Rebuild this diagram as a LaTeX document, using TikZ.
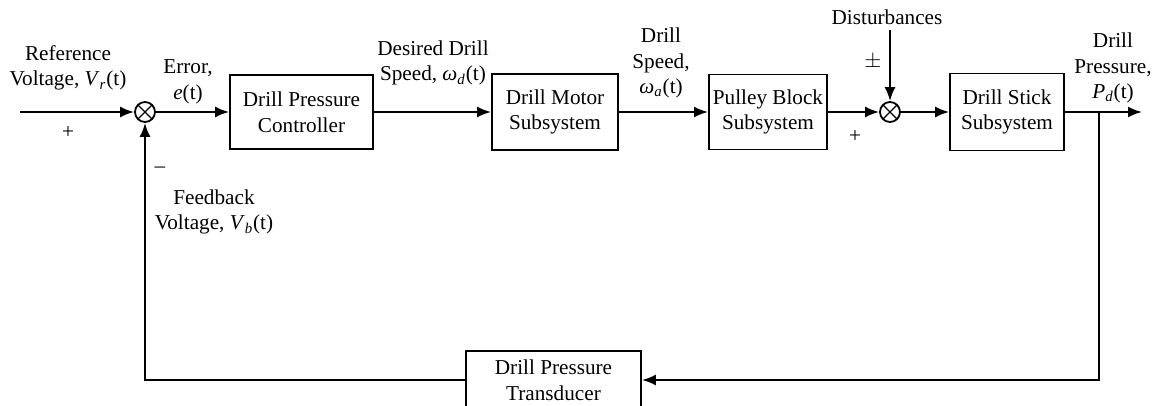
\documentclass[tikz,border=0pt]{standalone}
\usepackage{fontspec}
\setmainfont{Liberation Serif}
\usetikzlibrary{arrows.meta}

\tikzset{
  block/.style={draw, line width=0.9pt, align=center, inner sep=2pt},
  sumjunc/.style={draw, circle, line width=0.9pt, minimum size=10pt, inner sep=0pt,
    path picture={\draw [line width=0.6pt]
      (path picture bounding box.north west) -- (path picture bounding box.south east)
      (path picture bounding box.north east) -- (path picture bounding box.south west);}},
  sig/.style={line width=1pt, -{Latex[length=7pt,width=5.5pt]}},
  lbl/.style={align=center, inner sep=0pt}
}

\begin{document}
\begin{tikzpicture}[x=0.5pt, y=-0.5pt, font=\fontsize{10.6}{12.8}\selectfont]
\useasboundingbox (0,0) rectangle (1168,406);

% Summing junctions
\node [sumjunc] (s1) at (145,112) {};
\node [sumjunc] (s2) at (890,112) {};

% Blocks
\node [block, minimum width=71.5pt, minimum height=37pt] (ctrl) at (301.5,112) {Drill Pressure\\Controller};
\node [block, minimum width=63pt, minimum height=38pt] (motor) at (555,112) {Drill Motor\\Subsystem};
\node [block, minimum width=59pt, minimum height=37.5pt] (pulley) at (768,112) {Pulley Block\\Subsystem};
\node [block, minimum width=57pt, minimum height=38.5pt] (stick) at (1007,112) {Drill Stick\\Subsystem};
\node [block, minimum width=87.5pt, minimum height=29pt] (trans) at (553.5,380) {Drill Pressure\\Transducer};

% Signals
\coordinate (in) at (20,112);
\coordinate (out) at (1142,112);
\coordinate (dist) at (890,30);
\coordinate (br) at (1099,112);

\draw [sig] (in) -- (s1);
\draw [sig] (s1) -- (ctrl);
\draw [sig] (ctrl) -- (motor);
\draw [sig] (motor) -- (pulley);
\draw [sig] (pulley) -- (s2);
\draw [sig] (s2) -- (stick);
\draw [sig] (stick) -- (out);
\draw [sig] (dist) -- (s2);

% Feedback
\draw [sig] (br) |- (trans);
\draw [sig] (trans) -| (s1);

% Labels
\node [lbl] (vr) at (68,68) {Reference\\Voltage, \textit{V}\textsubscript{\textit{r}}(t)};
\node [lbl] (plus1) at (68,133) {+};
\node [lbl] (err) at (188,82) {Error,\\\textit{e}(t)};
\node [lbl] (wd) at (433,63) {Desired Drill\\Speed, \textit{ω}\textsubscript{\textit{d}}(t)};
\node [lbl] (wa) at (661,63) {Drill\\Speed,\\\textit{ω}\textsubscript{\textit{a}}(t)};
\node [lbl] (dlbl) at (887,17) {Disturbances};
\node [lbl] (pm) at (873,62) {$\pm$};
\node [lbl] (plus2) at (855,137) {+};
\node [lbl] (pd) at (1113,68) {Drill\\Pressure,\\\textit{P}\textsubscript{\textit{d}}(t)};
\node [lbl] (minus1) at (160,170) {--};
\node [lbl] (vb) at (214,212) {Feedback\\Voltage, \textit{V}\textsubscript{\textit{b}}(t)};

\end{tikzpicture}
\end{document}
